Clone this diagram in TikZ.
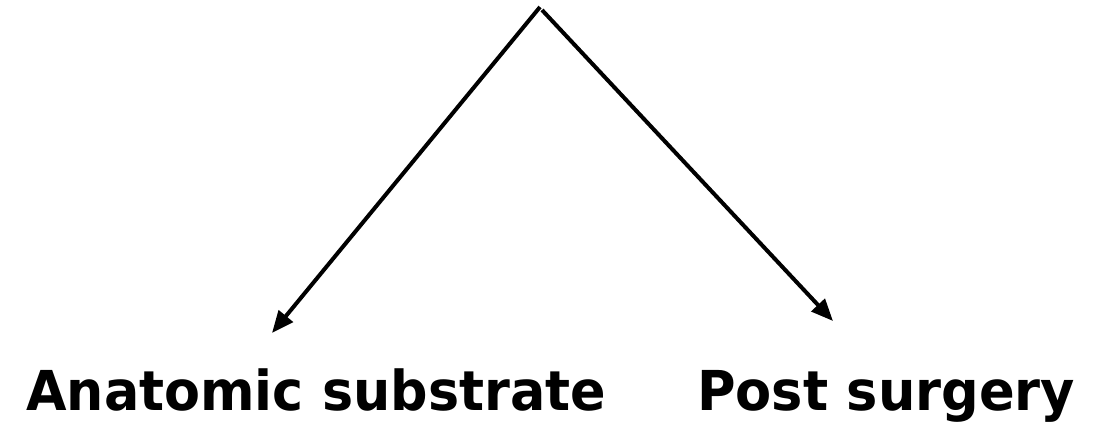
\documentclass[tikz,border=0pt]{standalone}
\usepackage{fontspec}
\setmainfont{DejaVu Sans}
\usetikzlibrary{arrows.meta}
\begin{document}
\begin{tikzpicture}[x=1pt,y=-1pt,
  conn/.style={line width=4pt,-{Triangle[length=22pt,width=18pt]}},
  lbl/.style={font=\fontsize{55}{60}\selectfont\bfseries,inner sep=0pt,anchor=base west}]
\useasboundingbox (0,0) rectangle (1112,424);
\coordinate (topL) at (540,7);
\coordinate (topR) at (542,10);
\coordinate (endL) at (272,333);
\coordinate (endR) at (833,321);
\node[lbl] (anat) at (26,410) {\scalebox{0.952}[1]{Anatomic substrate}};
\node[lbl] (post) at (697,410) {\scalebox{0.957}[1]{Post surgery}};
\draw[conn] (topL) -- (endL);
\draw[conn] (topR) -- (endR);
\end{tikzpicture}
\end{document}
